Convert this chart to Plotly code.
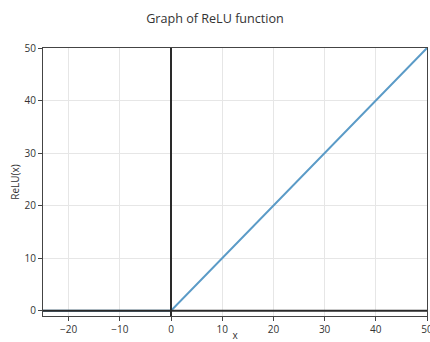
import plotly.graph_objects as go

# data
x_values = [-25, 0, 50]
relu_values = [0, 0, 50]
x_ticks = [-20, -10, 0, 10, 20, 30, 40, 50]
y_ticks = [0, 10, 20, 30, 40, 50]

fig = go.Figure()
fig.add_trace(go.Scatter(x=x_values, y=relu_values, mode="lines",
                         line=dict(color="#5b9bc7", width=2), showlegend=False))

fig.add_shape(type="line", xref="x", yref="paper", x0=0, x1=0, y0=0, y1=1,
              line=dict(color="#2a2a2a", width=2))
fig.add_shape(type="line", xref="paper", yref="y", x0=0, x1=1, y0=0, y1=0,
              line=dict(color="#2a2a2a", width=2))

axis_common = dict(showgrid=True, gridcolor="#e6e6e6", gridwidth=1,
                   showline=True, linecolor="#444444", linewidth=1, mirror=True,
                   ticks="outside", ticklen=4, tickcolor="#444444",
                   zeroline=False, automargin=False, ticklabeloverflow="allow",
                   tickfont=dict(size=10, color="#333333"))

fig.update_layout(
    width=430, height=342,
    margin=dict(l=43, r=3, t=48, b=26),
    paper_bgcolor="white", plot_bgcolor="white",
    font=dict(family="Open Sans", color="#333333"),
    title=dict(text="Graph of ReLU function", x=0.5, xanchor="center",
               y=0.947, yanchor="middle", font=dict(size=12.6, color="#333333")),
    xaxis=dict(range=[-25, 50], tickvals=x_ticks,
               ticktext=["\u221220", "\u221210", "0", "10", "20", "30", "40", "50"],
               title=dict(text="x", font=dict(size=10), standoff=10), **axis_common),
    yaxis=dict(range=[-1, 50], tickvals=y_ticks,
               title=dict(text="ReLU(x)", font=dict(size=10), standoff=3), **axis_common),
)

fig.write_html("out.html", config={"displayModeBar": False},
               post_script="document.body.style.margin='0';document.body.style.overflow='hidden';")
